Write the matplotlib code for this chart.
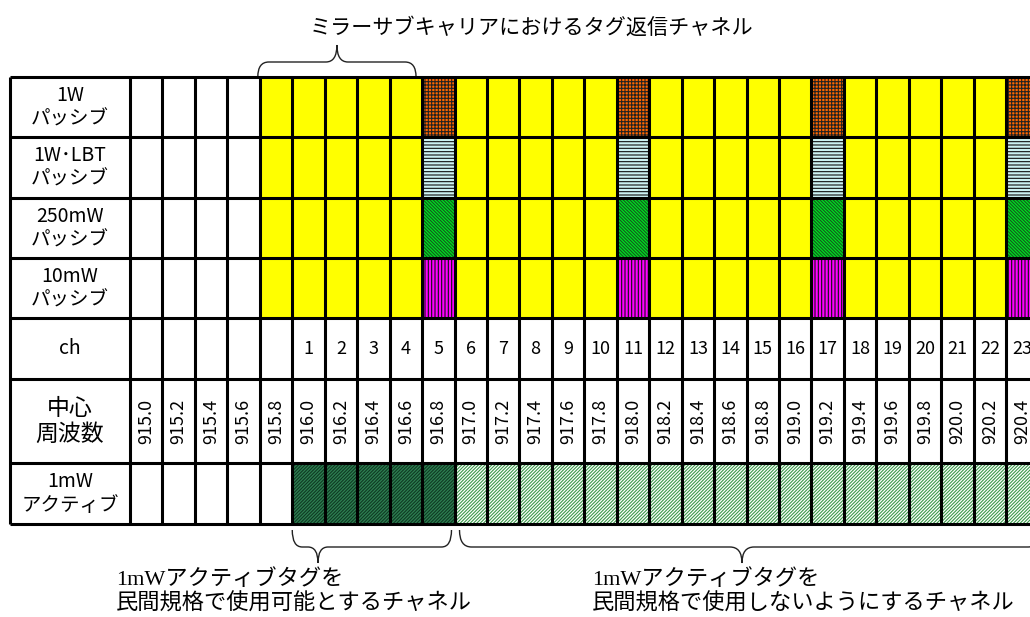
import matplotlib
matplotlib.use("Agg")
from matplotlib import pyplot as plt
from matplotlib.patches import Rectangle
from matplotlib.path import Path
from matplotlib.patches import PathPatch

plt.rcParams['font.family'] = ['Noto Sans CJK JP', 'DejaVu Sans']
plt.rcParams['hatch.linewidth'] = 0.8

# Table data
row_labels = ['1W\nパッシブ', '1W･LBT\nパッシブ', '250mW\nパッシブ', '10mW\nパッシブ',
              'ch', '中心\n周波数', '1mW\nアクティブ']
freqs = [915.0, 915.2, 915.4, 915.6, 915.8, 916.0, 916.2, 916.4, 916.6, 916.8,
         917.0, 917.2, 917.4, 917.6, 917.8, 918.0, 918.2, 918.4, 918.6, 918.8,
         919.0, 919.2, 919.4, 919.6, 919.8, 920.0, 920.2, 920.4]
channels = [None, None, None, None, None, 1, 2, 3, 4, 5,
            6, 7, 8, 9, 10, 11, 12, 13, 14, 15,
            16, 17, 18, 19, 20, 21, 22, 23]
passive_start = 915.8
tag_reply_channels = [5, 11, 17, 23]
active_allowed = [1, 2, 3, 4, 5]
active_not_allowed = [6, 7, 8, 9, 10, 11, 12, 13, 14, 15, 16, 17, 18, 19, 20, 21, 22, 23]

title = 'ミラーサブキャリアにおけるタグ返信チャネル'
note_left = '1mWアクティブタグを\n民間規格で使用可能とするチャネル'
note_right = '1mWアクティブタグを\n民間規格で使用しないようにするチャネル'

# Layout (pixels)
left = 10
label_w = 120
col_w = 32.45
top = 77
row_h = [60, 61, 60, 60, 61, 84, 61]
row_tops = [top]
for h in row_h:
    row_tops.append(row_tops[-1] + h)

# pattern styles for the tag reply columns, one per passive row
reply_styles = [
    dict(facecolor='#FF6600', edgecolor='#222222', hatch='+++++'),
    dict(facecolor='#CCF2F2', edgecolor='#111111', hatch='-----'),
    dict(facecolor='#00DD22', edgecolor='#125A1C', hatch='\\' * 10),
    dict(facecolor='#FF00FF', edgecolor='#111111', hatch='|||||'),
]
style_allowed = dict(facecolor='#2F7F52', edgecolor='#0E3A22', hatch='/' * 10)
style_not_allowed = dict(facecolor='white', edgecolor='#3A9A4A', hatch='/' * 10)

fig = plt.figure(figsize=(10.3, 6.17), dpi=100)
ax = fig.add_axes([0, 0, 1, 1])
ax.set_xlim(0, 1030)
ax.set_ylim(617, 0)
ax.axis('off')


def col_x(i):
    return left + label_w + col_w * i


# cells
for i, f in enumerate(freqs):
    x = col_x(i)
    ch = channels[i]
    for r in range(4):
        if f < passive_start:
            continue
        if ch in tag_reply_channels:
            st = reply_styles[r]
        else:
            st = dict(facecolor='#FFFF00', edgecolor='#FFFF00', hatch=None)
        ax.add_patch(Rectangle((x, row_tops[r]), col_w, row_h[r], linewidth=0, **st))
    if ch in active_allowed:
        ax.add_patch(Rectangle((x, row_tops[6]), col_w, row_h[6], linewidth=0, **style_allowed))
    elif ch in active_not_allowed:
        ax.add_patch(Rectangle((x, row_tops[6]), col_w, row_h[6], linewidth=0, **style_not_allowed))
    if ch is not None:
        ax.text(x + col_w / 2, row_tops[4] + row_h[4] / 2, str(ch),
                ha='center', va='center', fontsize=13)
    ax.text(x + col_w / 2, row_tops[5] + row_h[5] / 2, f'{f:.1f}',
            ha='center', va='center', rotation=90, fontsize=13)

# row labels
for r, lab in enumerate(row_labels):
    fs = 16.5 if r == 5 else 14
    ax.text(left + label_w / 2, row_tops[r] + row_h[r] / 2, lab,
            ha='center', va='center', fontsize=fs, linespacing=1.15)

# grid lines
right_edge = col_x(len(freqs))
ax.hlines(row_tops, left, right_edge, colors='black', linewidth=2.2)
xs = [left] + [col_x(i) for i in range(len(freqs) + 1)]
ax.vlines(xs, row_tops[0], row_tops[-1], colors='black', linewidth=2.2)


def brace(x0, x1, xt, y_end, y_mid, y_tip, r=11):
    verts = [(x0, y_end), (x0, y_mid), (x0 + r, y_mid),
             (xt - r, y_mid),
             (xt, y_mid), (xt, y_tip),
             (xt, y_mid), (xt + r, y_mid),
             (x1 - r, y_mid),
             (x1, y_mid), (x1, y_end)]
    codes = [Path.MOVETO, Path.CURVE3, Path.CURVE3, Path.LINETO,
             Path.CURVE3, Path.CURVE3, Path.CURVE3, Path.CURVE3,
             Path.LINETO, Path.CURVE3, Path.CURVE3]
    ax.add_patch(PathPatch(Path(verts, codes), facecolor='none',
                           edgecolor='#222222', linewidth=1.0))


# top brace over the mirror sub-carrier channels
brace(col_x(4) - 2, col_x(9) - 6, (col_x(4) + col_x(9) - 8) / 2, top, 62, 45)
# bottom braces
brace(col_x(5), col_x(10) - 3, 318, row_tops[-1] + 6, 547, 563, r=10)
brace(col_x(10) + 5, 1040, 742, row_tops[-1] + 6, 547, 563, r=12)

ax.text(532, 28, title, ha='center', va='center', fontsize=15.2)
ax.text(116, 592, note_left, ha='left', va='center', fontsize=16, linespacing=1.2,
        family=['Liberation Serif', 'Noto Sans CJK JP'])
ax.text(592, 592, note_right, ha='left', va='center', fontsize=16, linespacing=1.2,
        family=['Liberation Serif', 'Noto Sans CJK JP'])

fig.savefig('out.png', dpi=100)
